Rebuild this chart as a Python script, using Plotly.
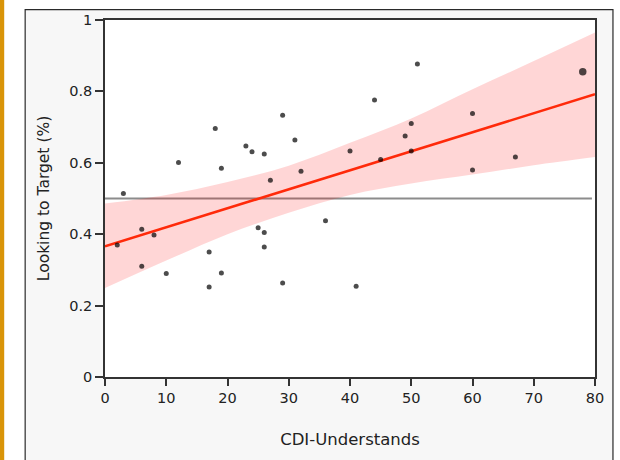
import plotly.graph_objects as go

# ---- data ----
cdi_understands = [2, 3, 6, 8, 6, 10, 12, 18, 19, 17, 17, 19,
                   23, 24, 26, 29, 31, 32, 27, 25, 26, 26, 29,
                   36, 40, 41, 44, 45, 49, 50, 51, 50,
                   60, 60, 67, 78]
looking_to_target = [0.370, 0.514, 0.414, 0.398, 0.310, 0.290, 0.601, 0.696, 0.585, 0.350, 0.252, 0.291,
                     0.647, 0.631, 0.625, 0.733, 0.664, 0.576, 0.551, 0.418, 0.405, 0.364, 0.263,
                     0.438, 0.633, 0.254, 0.776, 0.609, 0.675, 0.710, 0.877, 0.633,
                     0.738, 0.580, 0.616, 0.855]
point_count = [1] * 35 + [2]          # the larger dot at 78 marks overlapping points

fit_x = [0, 80]
fit_y = [0.366, 0.792]

band_x = [0, 10, 20, 30, 40, 50, 60, 70, 80]
band_upper = [0.486, 0.510, 0.546, 0.592, 0.656, 0.724, 0.806, 0.885, 0.965]
band_lower = [0.249, 0.326, 0.400, 0.460, 0.510, 0.542, 0.567, 0.593, 0.616]

chance_x = [0, 79.5]
chance_y = [0.5, 0.5]

x_ticks = [0, 10, 20, 30, 40, 50, 60, 70, 80]
y_ticks = [0, 0.2, 0.4, 0.6, 0.8, 1]
y_tick_labels = ["0", "0.2", "0.4", "0.6", "0.8", "1"]
x_title = "CDI-Understands"
y_title = "Looking to Target (%)"

sizes = [5 if c == 1 else 7.5 for c in point_count]

fig = go.Figure()
fig.add_trace(go.Scatter(x=chance_x, y=chance_y, mode="lines",
                         line=dict(color="#8c8c8c", width=2.2), hoverinfo="skip"))
fig.add_trace(go.Scatter(x=band_x, y=band_lower, mode="lines",
                         line=dict(width=0, shape="spline", smoothing=1), hoverinfo="skip"))
fig.add_trace(go.Scatter(x=band_x, y=band_upper, mode="lines", fill="tonexty",
                         fillcolor="rgba(255,0,0,0.16)",
                         line=dict(width=0, shape="spline", smoothing=1), hoverinfo="skip"))
fig.add_trace(go.Scatter(x=fit_x, y=fit_y, mode="lines",
                         line=dict(color="#ff2a0a", width=2.6), hoverinfo="skip"))
fig.add_trace(go.Scatter(x=cdi_understands, y=looking_to_target, mode="markers",
                         marker=dict(color="#000000", size=sizes, line=dict(width=0))))

W, H = 620, 460
L, R, T, B = 104.5, 24.5, 16, 83
pw, ph = W - L - R, H - T - B


def px2x(p):
    return (p - L) / pw


def py2y(p):
    return (H - B - p) / ph


shapes = [
    dict(type="rect", xref="paper", yref="paper", layer="below",
         x0=px2x(24.5), x1=px2x(613.5), y0=py2y(470), y1=py2y(5.5),
         fillcolor="#f7f7f7", line=dict(color="#2a2a2a", width=1.2)),
    dict(type="rect", xref="paper", yref="paper", layer="below",
         x0=px2x(-2), x1=px2x(3.5), y0=py2y(470), y1=py2y(-10),
         fillcolor="#d99408", line=dict(width=0)),
    dict(type="rect", xref="paper", yref="paper", layer="below",
         x0=0, x1=1, y0=0, y1=1, fillcolor="white", line=dict(width=0)),
]

fig.update_layout(
    width=W, height=H,
    margin=dict(l=L, r=R, t=T, b=B, pad=0),
    paper_bgcolor="white", plot_bgcolor="white",
    showlegend=False,
    shapes=shapes,
    font=dict(family="DejaVu Sans", color="#222222"),
)
fig.update_xaxes(range=[0, 80], tickvals=x_ticks, ticks="outside", ticklen=7,
                 tickwidth=1.5, tickcolor="#333", showline=True, linecolor="#333",
                 linewidth=1.5, mirror=True, showgrid=False, zeroline=False,
                 tickfont=dict(size=14.5),
                 title=dict(text=x_title, font=dict(size=16.5), standoff=28))
fig.update_yaxes(range=[0, 1], tickvals=y_ticks, ticktext=y_tick_labels, ticks="outside", ticklen=8,
                 tickwidth=1.5, tickcolor="#333", showline=True, linecolor="#333",
                 linewidth=1.5, mirror=True, showgrid=False, zeroline=False,
                 tickfont=dict(size=14.5),
                 title=dict(text=y_title, font=dict(size=15.5), standoff=16))

fig.write_html("out.html", config={"displayModeBar": False},
               post_script="document.body.style.margin='0';document.body.style.overflow='hidden';")
